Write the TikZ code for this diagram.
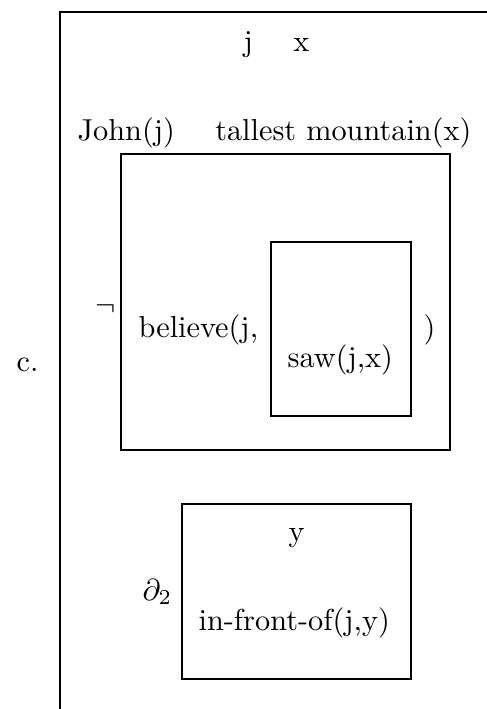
\documentclass[tikz,border=0pt]{standalone}
\usepackage{tikz}

\begin{document}
\begin{tikzpicture}[x=0.33pt, y=-0.33pt,
    every node/.style={inner sep=0pt, anchor=base west},
    drsline/.style={line width=0.75pt}
]
    \useasboundingbox (0,0) rectangle (487,709);

    % Outer DRS (runs off the page)
    \draw [drsline] (487,12) -- (60,12) -- (60,709);
    \node (label) at (16,371) {c.};
    \node (univ) at (243,51) {j \quad x};
    \node (conds) at (77,140) {John(j) \quad tallest mountain(x)};

    % Negated box
    \node (neg) at (95,315) {$\neg$};
    \draw [drsline] (121,154) rectangle (450,450);
    \node (believe) at (138,337) {believe(j,};
    \draw [drsline] (271,242) rectangle (411,416);
    \node (saw) at (287,367) {saw(j,x)};
    \node (rparen) at (423,337) {)};

    % Presupposition box
    \node (presup) at (142,600) {$\partial_2$};
    \draw [drsline] (182,504) rectangle (411,679);
    \node (yref) at (288,541) {y};
    \node (front) at (198,630) {in-front-of(j,y)};

\end{tikzpicture}
\end{document}
